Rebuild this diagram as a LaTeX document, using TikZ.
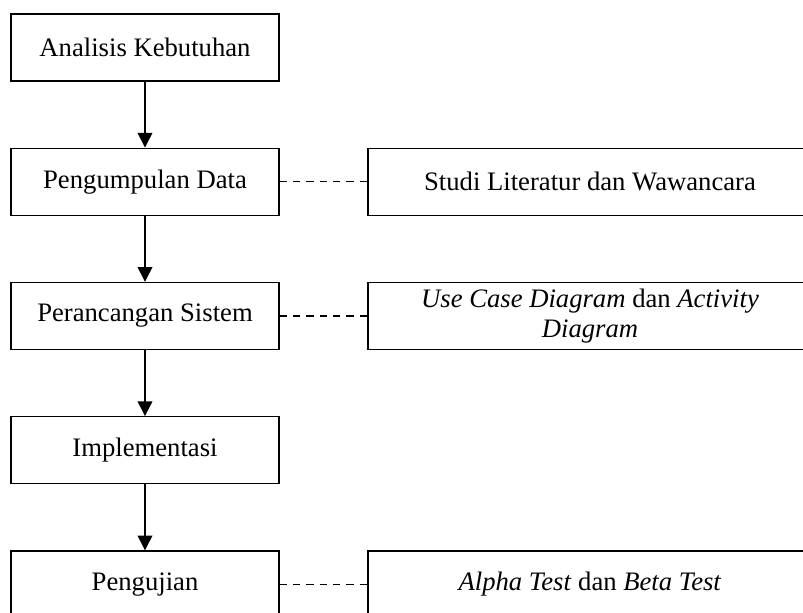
\documentclass[tikz,border=0pt]{standalone}
\usepackage{fontspec}
\setmainfont{Liberation Serif}
\usetikzlibrary{arrows.meta}

\begin{document}
\begin{tikzpicture}[x=0.75pt,y=-0.75pt,
        tahap/.style={draw,line width=1.1pt,minimum width=201pt,minimum height=50.25pt,
          inner sep=0pt,align=center,font=\fontsize{20}{22.5}\selectfont},
        ket/.style={tahap,minimum width=333pt},
        panah/.style={-{Triangle[width=11pt,length=11pt]},line width=1.1pt},
        garis/.style={line width=1.1pt,dash pattern=on 5.5pt off 4.5pt}]
        \useasboundingbox (0,0) rectangle (803,612);
        \node[tahap] (analisis) at (145,47.5) {Analisis Kebutuhan};
        \node[tahap] (pengumpulan) at (145,181.75) {Pengumpulan Data};
        \node[tahap] (perancangan) at (145,316) {Perancangan Sistem};
        \node[tahap] (implementasi) at (145,450.25) {Implementasi};
        \node[tahap] (pengujian) at (145,584.5) {Pengujian};
        \node[ket] (studi) at (590,181.75) {Studi Literatur dan Wawancara};
        \node[ket] (desain) at (590,316) {\textit{Use Case Diagram} dan \textit{Activity}\\\textit{Diagram}};
        \node[ket] (uji) at (590,584.5) {\textit{Alpha Test} dan \textit{Beta Test}};
        \draw[panah] (analisis) -- (pengumpulan);
        \draw[panah] (pengumpulan) -- (perancangan);
        \draw[panah] (perancangan) -- (implementasi);
        \draw[panah] (implementasi) -- (pengujian);
        \draw[garis] (pengumpulan.east) -- (studi.west);
        \draw[garis] (perancangan.east) -- (desain.west);
        \draw[garis] (pengujian.east) -- (uji.west);
      \end{tikzpicture}
\end{document}
